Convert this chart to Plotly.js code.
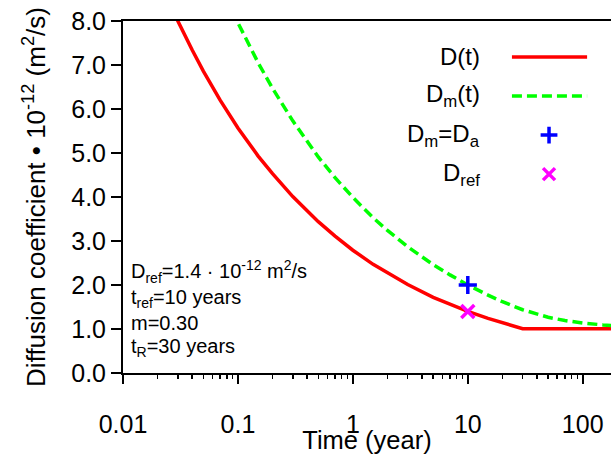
<!DOCTYPE html>
<html>
<head>
<meta charset="utf-8">
<script src="https://cdn.plot.ly/plotly-3.0.1.min.js"></script>
<style>html,body{margin:0;padding:0;overflow:hidden;background:#fff;}</style>
</head>
<body>
<div id="chart" style="width:611px;height:454px;"></div>
<script>
// Time (years) and D(t)
const tD = [0.025, 0.03, 0.04, 0.05, 0.07, 0.1, 0.15, 0.2, 0.3, 0.5, 0.7, 1, 1.5, 2, 3, 5, 7, 10, 15, 20, 30, 200];
const vD = [8.45, 8.00, 7.34, 6.86, 6.20, 5.57, 4.93, 4.53, 4.01, 3.44, 3.11, 2.79, 2.47, 2.27, 2.01, 1.72, 1.56, 1.40, 1.24, 1.14, 1.007, 1.007];
// Time (years) and Dm(t)
const tDm = [0.07, 0.08, 0.1, 0.15, 0.2, 0.3, 0.5, 0.7, 1, 1.5, 2, 3, 5, 7, 10, 15, 20, 30, 40, 50, 70, 100, 150, 200];
const vDm = [8.86, 8.51, 7.96, 7.05, 6.47, 5.73, 4.91, 4.44, 3.99, 3.53, 3.24, 2.87, 2.46, 2.23, 2.00, 1.77, 1.62, 1.438, 1.33, 1.266, 1.192, 1.136, 1.093, 1.071];
// Single points
const tDa = [10];
const vDa = [2.0];
const tRef = [10];
const vRef = [1.4];
// Axis ticks
const xTickVals = [0.01, 0.1, 1, 10, 100];
const xTickText = ['0.01', '0.1', '1', '10', '100'];
const xMinorVals = [0.02, 0.03, 0.04, 0.05, 0.06, 0.07, 0.08, 0.09,
                    0.2, 0.3, 0.4, 0.5, 0.6, 0.7, 0.8, 0.9,
                    2, 3, 4, 5, 6, 7, 8, 9,
                    20, 30, 40, 50, 60, 70, 80, 90,
                    200];
const yTickVals = [0, 1, 2, 3, 4, 5, 6, 7, 8];
const yTickText = ['0.0', '1.0', '2.0', '3.0', '4.0', '5.0', '6.0', '7.0', '8.0'];
// Legend labels
const legendLabels = ['D(t)', 'D<sub>m</sub>(t)', 'D<sub>m</sub>=D<sub>a</sub>', 'D<sub>ref</sub>'];
// Parameter text
const paramLines = ['D<sub>ref</sub>=1.4 · 10<sup>-12</sup> m<sup>2</sup>/s', 't<sub>ref</sub>=10 years', 'm=0.30', 't<sub>R</sub>=30 years'];

const FONT = '"Liberation Sans", Arial, Helvetica, sans-serif';
const RED = '#ff0000', GREEN = '#00ff00', BLUE = '#0000ff', MAG = '#ff00ff';
const XRANGE = [-2, 2.246];

// legend geometry (paper coords of overlay axes)
const legRows = [0.898, 0.787, 0.676, 0.565];
const legX0 = 0.797, legX1 = 0.951, legXm = 0.873, legTextX = 0.735;

const traces = [
  {x: tD, y: vD, mode: 'lines', line: {color: RED, width: 3.5}, showlegend: false},
  {x: tDm, y: vDm, mode: 'lines', line: {color: GREEN, width: 3.5, dash: '10px,5px'}, showlegend: false},
  {x: tDa, y: vDa, mode: 'markers', marker: {symbol: 'cross-thin', size: 13, line: {color: BLUE, width: 3.5}}, showlegend: false},
  {x: tRef, y: vRef, mode: 'markers', marker: {symbol: 'x-thin', size: 13, line: {color: MAG, width: 3.5}}, showlegend: false},
  // legend samples on overlay axes
  {x: [legX0, legX1], y: [legRows[0], legRows[0]], xaxis: 'x2', yaxis: 'y2', mode: 'lines', line: {color: RED, width: 3.5}, showlegend: false, hoverinfo: 'skip'},
  {x: [legX0, legX1], y: [legRows[1], legRows[1]], xaxis: 'x2', yaxis: 'y2', mode: 'lines', line: {color: GREEN, width: 3.5, dash: '10px,5px'}, showlegend: false, hoverinfo: 'skip'},
  {x: [legXm], y: [legRows[2]], xaxis: 'x2', yaxis: 'y2', mode: 'markers', marker: {symbol: 'cross-thin', size: 12, line: {color: BLUE, width: 3.5}}, showlegend: false, hoverinfo: 'skip'},
  {x: [legXm], y: [legRows[3]], xaxis: 'x2', yaxis: 'y2', mode: 'markers', marker: {symbol: 'x-thin', size: 12, line: {color: MAG, width: 3.5}}, showlegend: false, hoverinfo: 'skip'},
  // invisible carrier trace for the minor-tick axis
  {x: [1], y: [0], xaxis: 'x3', yaxis: 'y', mode: 'markers', marker: {opacity: 0}, showlegend: false, hoverinfo: 'skip'}
];

const annotations = [];
legendLabels.forEach((s, i) => {
  annotations.push({xref: 'paper', yref: 'paper', x: legTextX, y: legRows[i], xanchor: 'right', yanchor: 'middle',
    text: s, showarrow: false, font: {family: FONT, size: 24, color: '#000'}});
});
const paramY = [0.287, 0.212, 0.142, 0.072];
paramLines.forEach((s, i) => {
  annotations.push({xref: 'paper', yref: 'paper', x: 0.012, y: paramY[i], xanchor: 'left', yanchor: 'middle',
    text: s, showarrow: false, font: {family: FONT, size: 20, color: '#000'}});
});

const layout = {
  width: 611, height: 454,
  margin: {l: 123, r: 0, t: 21, b: 81, pad: 0},
  paper_bgcolor: '#fff', plot_bgcolor: '#fff',
  font: {family: FONT, size: 24, color: '#000'},
  showlegend: false,
  xaxis: {
    type: 'log', range: XRANGE,
    tickmode: 'array', tickvals: xTickVals, ticktext: xTickText,
    ticks: 'outside', ticklen: 9, tickwidth: 2, tickcolor: '#000',
    ticklabelstandoff: 19,
    showline: true, linewidth: 2, linecolor: '#000', mirror: true,
    showgrid: false, zeroline: false,
    tickfont: {family: FONT, size: 25},
    title: {text: 'Time (year)', font: {family: FONT, size: 25.5}, standoff: 12}
  },
  xaxis3: {
    type: 'log', range: XRANGE, overlaying: 'x', anchor: 'y', side: 'bottom',
    tickmode: 'array', tickvals: xMinorVals,
    ticks: 'outside', ticklen: 5, tickwidth: 1.5, tickcolor: '#000',
    showticklabels: false, showline: false, showgrid: false, zeroline: false, fixedrange: true
  },
  yaxis: {
    range: [0, 8],
    tickmode: 'array', tickvals: yTickVals, ticktext: yTickText,
    ticks: 'outside', ticklen: 10, tickwidth: 2, tickcolor: '#000',
    showline: true, linewidth: 2, linecolor: '#000',
    showgrid: false, zeroline: false,
    tickfont: {family: FONT, size: 25},
    title: {text: 'Diffusion coefficient • 10<sup>-12</sup> (m<sup>2</sup>/s)', font: {family: FONT, size: 26}, standoff: 18}
  },
  xaxis2: {overlaying: 'x', range: [0, 1], visible: false, fixedrange: true},
  yaxis2: {overlaying: 'y', range: [0, 1], visible: false, fixedrange: true},
  annotations: annotations
};

Plotly.newPlot('chart', traces, layout, {staticPlot: true, displayModeBar: false});
</script>
</body>
</html>
